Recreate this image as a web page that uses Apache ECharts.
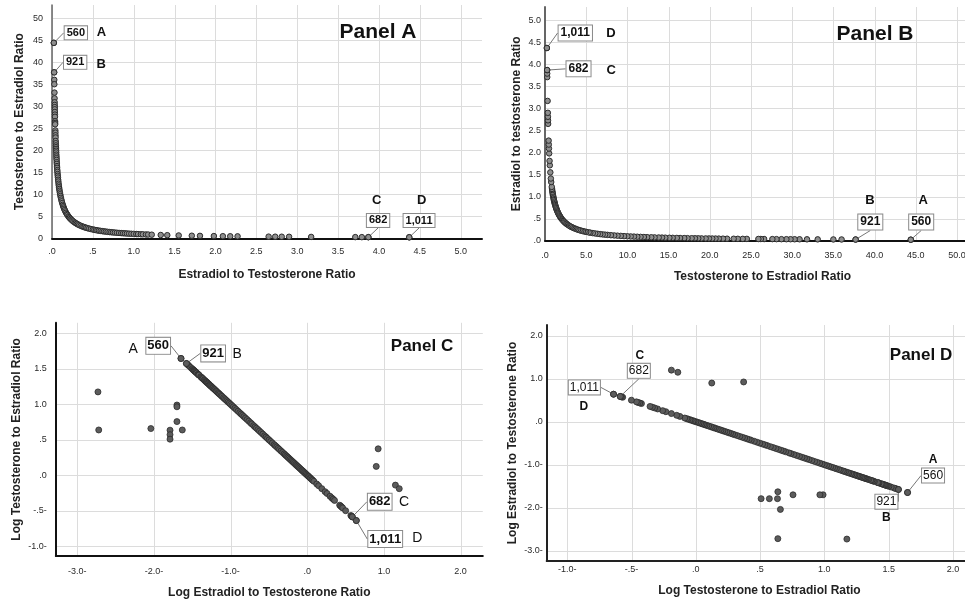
<!DOCTYPE html>
<html>
<head>
<meta charset="utf-8">
<script src="https://cdn.jsdelivr.net/npm/echarts@6/dist/echarts.min.js"></script>
<style>
  html, body { margin: 0; padding: 0; background: #fff; }
  #chart { width: 965px; height: 601px; }
</style>
</head>
<body>
<div id="chart"></div>
<script>
const FONT = "'Liberation Sans', Arial, Helvetica, sans-serif";

// Testosterone-to-estradiol and estradiol-to-testosterone ratios, one entry per subject
const teRatio = [
  36.0, 35.0, 33.1, 31.8, 30.9, 30.3, 29.8, 29.3, 28.7, 28.1,
  27.6, 26.6, 26.2, 25.9, 24.5, 24.0, 23.4, 22.9, 22.1, 21.6,
  21.1, 20.7, 20.3, 19.9, 19.5, 19.0, 18.6, 18.2, 17.8, 17.3,
  16.9, 16.4, 16.0, 15.5, 15.1, 14.6, 14.2, 13.8, 13.3, 12.9,
  12.4, 12.0, 11.6, 11.2, 10.8, 10.4, 10.0, 9.6, 9.2, 8.8,
  8.4, 8.0, 7.6, 7.3, 7.0, 6.7, 6.4, 6.1, 5.8, 5.5,
  5.3, 5.0, 4.8, 4.6, 4.4, 4.2, 4.0, 3.8, 3.6, 3.45,
  3.3, 3.15, 3.0, 2.85, 2.7, 2.6, 2.5, 2.4, 2.3, 2.2,
  2.1, 2.0, 1.93, 1.86, 1.8, 1.74, 1.68, 1.62, 1.57, 1.52,
  1.47, 1.42, 1.38, 1.34, 1.3, 1.26, 1.22, 1.18, 1.15, 1.12,
  1.09, 1.06, 1.03, 1.0, 0.97, 0.95, 0.92, 0.9, 0.87, 0.85,
  0.82, 0.752, 0.709, 0.645, 0.585, 0.552, 0.505, 0.478, 0.459, 0.441,
  0.377, 0.366, 0.356, 0.345, 0.315, 0.270, 0.264
];
const etRatio = [
  0.0278, 0.0286, 0.0302, 0.0314, 0.0324, 0.0330, 0.0336, 0.0341, 0.0348, 0.0356,
  0.0362, 0.0376, 0.0382, 0.0386, 0.0408, 0.0417, 0.0427, 0.0437, 0.0452, 0.0463,
  0.0474, 0.0483, 0.0493, 0.0503, 0.0513, 0.0526, 0.0538, 0.0549, 0.0562, 0.0578,
  0.0592, 0.0610, 0.0625, 0.0645, 0.0662, 0.0685, 0.0704, 0.0725, 0.0752, 0.0775,
  0.0806, 0.0833, 0.0862, 0.0893, 0.0926, 0.0962, 0.100, 0.104, 0.109, 0.114,
  0.119, 0.125, 0.132, 0.137, 0.143, 0.149, 0.156, 0.164, 0.172, 0.182,
  0.189, 0.200, 0.208, 0.217, 0.227, 0.238, 0.250, 0.263, 0.278, 0.290,
  0.303, 0.317, 0.333, 0.351, 0.370, 0.385, 0.400, 0.417, 0.435, 0.455,
  0.476, 0.500, 0.518, 0.538, 0.556, 0.575, 0.595, 0.617, 0.637, 0.658,
  0.680, 0.704, 0.725, 0.746, 0.769, 0.794, 0.820, 0.847, 0.870, 0.893,
  0.917, 0.943, 0.971, 1.000, 1.031, 1.053, 1.087, 1.111, 1.149, 1.176,
  1.220, 1.33, 1.41, 1.55, 1.71, 1.81, 1.98, 2.09, 2.18, 2.27,
  2.65, 2.73, 2.81, 2.90, 3.17, 3.71, 3.79
];

// Log-transformed ratios for the same subjects
const logTE = [
  1.556, 1.544, 1.520, 1.502, 1.490, 1.481, 1.474, 1.467, 1.458, 1.449,
  1.441, 1.425, 1.418, 1.413, 1.389, 1.380, 1.369, 1.360, 1.344, 1.334,
  1.324, 1.316, 1.308, 1.299, 1.290, 1.279, 1.270, 1.260, 1.250, 1.238,
  1.228, 1.215, 1.204, 1.190, 1.179, 1.164, 1.152, 1.140, 1.124, 1.111,
  1.093, 1.079, 1.064, 1.049, 1.033, 1.017, 1.000, 0.982, 0.964, 0.944,
  0.924, 0.903, 0.881, 0.863, 0.845, 0.826, 0.806, 0.785, 0.763, 0.740,
  0.724, 0.699, 0.681, 0.663, 0.643, 0.623, 0.602, 0.580, 0.556, 0.538,
  0.519, 0.498, 0.477, 0.455, 0.431, 0.415, 0.398, 0.380, 0.362, 0.342,
  0.322, 0.301, 0.286, 0.270, 0.255, 0.241, 0.225, 0.210, 0.196, 0.182,
  0.167, 0.152, 0.140, 0.127, 0.114, 0.100, 0.086, 0.072, 0.061, 0.049,
  0.037, 0.025, 0.013, 0.000, -0.013, -0.022, -0.036, -0.046, -0.060, -0.071,
  -0.086, -0.124, -0.149, -0.190, -0.233, -0.258, -0.297, -0.320, -0.338, -0.356,
  -0.423, -0.436, -0.449, -0.462, -0.501, -0.569, -0.579
];
const logET = [
  -1.556, -1.544, -1.520, -1.502, -1.490, -1.481, -1.474, -1.467, -1.458, -1.449,
  -1.441, -1.425, -1.418, -1.413, -1.389, -1.380, -1.369, -1.360, -1.344, -1.334,
  -1.324, -1.316, -1.308, -1.299, -1.290, -1.279, -1.270, -1.260, -1.250, -1.238,
  -1.228, -1.215, -1.204, -1.190, -1.179, -1.164, -1.152, -1.140, -1.124, -1.111,
  -1.093, -1.079, -1.064, -1.049, -1.033, -1.017, -1.000, -0.982, -0.964, -0.944,
  -0.924, -0.903, -0.881, -0.863, -0.845, -0.826, -0.806, -0.785, -0.763, -0.740,
  -0.724, -0.699, -0.681, -0.663, -0.643, -0.623, -0.602, -0.580, -0.556, -0.538,
  -0.519, -0.498, -0.477, -0.455, -0.431, -0.415, -0.398, -0.380, -0.362, -0.342,
  -0.322, -0.301, -0.286, -0.270, -0.255, -0.241, -0.225, -0.210, -0.196, -0.182,
  -0.167, -0.152, -0.140, -0.127, -0.114, -0.100, -0.086, -0.072, -0.061, -0.049,
  -0.037, -0.025, -0.013, 0.000, 0.013, 0.022, 0.036, 0.046, 0.060, 0.071,
  0.086, 0.124, 0.149, 0.190, 0.233, 0.258, 0.297, 0.320, 0.338, 0.356,
  0.423, 0.436, 0.449, 0.462, 0.501, 0.569, 0.579
];

// Cases whose log values fall away from the reciprocal line
const offLineLogET = [-2.73, -2.72, -2.04, -1.79, -1.79, -1.79, -1.70, -1.70, -1.70, -1.63, 0.90, 0.925, 1.15, 1.20];
const offLineLogTE = [1.175, 0.638, 0.658, 0.635, 0.572, 0.508, 0.99, 0.965, 0.756, 0.638, 0.124, 0.372, -0.14, -0.19];

// Labelled extreme cases
const markedCases = ['560', '921', '682', '1,011'];
const markedLetters = ['A', 'B', 'C', 'D'];
const markedET = [0.0225, 0.0265, 3.87, 4.37];
const markedTE = [44.4, 37.7, 0.258, 0.229];
const markedLogET = [-1.647, -1.576, 0.588, 0.640];
const markedLogTE = [1.647, 1.576, -0.588, -0.640];

// Tick labels per axis
const ticksAX = ['.0', '.5', '1.0', '1.5', '2.0', '2.5', '3.0', '3.5', '4.0', '4.5', '5.0'];
const ticksAY = ['0', '5', '10', '15', '20', '25', '30', '35', '40', '45', '50'];
const ticksBX = ['.0', '5.0', '10.0', '15.0', '20.0', '25.0', '30.0', '35.0', '40.0', '45.0', '50.0'];
const ticksBY = ['.0', '.5', '1.0', '1.5', '2.0', '2.5', '3.0', '3.5', '4.0', '4.5', '5.0'];
const ticksCX = ['-3.0-', '-2.0-', '-1.0-', '.0', '1.0', '2.0'];
const ticksCY = ['-1.0-', '-.5-', '.0', '.5', '1.0', '1.5', '2.0'];
const ticksDX = ['-1.0-', '-.5-', '.0', '.5', '1.0', '1.5', '2.0'];
const ticksDY = ['-3.0-', '-2.0-', '-1.0-', '.0', '1.0', '2.0'];

// ---- panel layout and styling ----
const panels = [
  {
    title: 'Panel A', titleAt: [378, 32], titleSize: 21,
    grid: { left: 52, top: 5, width: 430, height: 233.3 },
    x: { min: 0, max: 5.26, step: 0.02, ticks: ticksAX, name: 'Estradiol to Testosterone Ratio', nameGap: 30, margin: 9, color: '#111', width: 2 },
    y: { min: 0, max: 53, step: 1, ticks: ticksAY, name: 'Testosterone to Estradiol Ratio', nameGap: 26, margin: 9, color: '#666', width: 1.5 },
    xs: etRatio, ys: teRatio, mx: markedET, my: markedTE,
    dot: { size: 5.5, fill: '#8e8e8e', edge: '#2b2b2b', edgeWidth: 1 },
    box: { size: 11, weight: 'bold', pad: [1, 2, 1, 2] },
    letter: { size: 13, weight: 'bold' },
    boxAt: [[22, -10], [21, -10], [9.7, -16.7], [9.8, -16.8]],
    letterAt: [[47.5, -10.7], [47, -8.4], [8.4, -37], [12.5, -37.3]]
  },
  {
    title: 'Panel B', titleAt: [875, 34], titleSize: 21,
    grid: { left: 545, top: 7, width: 435, height: 233.7 },
    x: { min: 0, max: 52.8, step: 0.1, ticks: ticksBX, name: 'Testosterone to Estradiol Ratio', nameGap: 30, margin: 10, color: '#111', width: 2 },
    y: { min: 0, max: 5.3, step: 0.01, ticks: ticksBY, name: 'Estradiol to testosterone Ratio', nameGap: 22, margin: 4, color: '#666', width: 2 },
    xs: teRatio, ys: etRatio, mx: markedTE, my: markedET,
    dot: { size: 5.5, fill: '#8e8e8e', edge: '#2b2b2b', edgeWidth: 1 },
    box: { size: 12, weight: 'bold', pad: [2, 2, 1, 2] },
    letter: { size: 13, weight: 'bold' },
    boxAt: [[10.4, -17.7], [14.7, -17.5], [31.4, -1.2], [28.4, -15]],
    letterAt: [[12.4, -39.7], [14.4, -39.5], [64, 0], [64, -14.7]]
  },
  {
    title: 'Panel C', titleAt: [422, 346], titleSize: 17,
    grid: { left: 55.8, top: 322.8, width: 427, height: 233.2 },
    x: { min: -3.28, max: 2.29, step: 0.01, ticks: ticksCX, name: 'Log Estradiol to Testosterone Ratio', nameGap: 31, margin: 11, color: '#111', width: 2 },
    y: { min: -1.14, max: 2.15, step: 0.01, ticks: ticksCY, name: 'Log Testosterone to Estradiol Ratio', nameGap: 33, margin: 9, color: '#111', width: 2 },
    xs: logET, ys: logTE, mx: markedLogET, my: markedLogTE,
    ox: offLineLogET, oy: offLineLogTE,
    dot: { size: 6, fill: '#5c5c5c', edge: '#2b2b2b', edgeWidth: 0.8 },
    box: { size: 13, weight: 'bold', pad: [2, 1, 1, 1] },
    letter: { size: 14, weight: 'normal' },
    boxAt: [[-22.8, -12.6], [26.7, -10.1], [27.4, -15.1], [28.9, 18.5]],
    letterAt: [[-47.8, -9.1], [50.7, -9.4], [51.7, -14.9], [61, 18]]
  },
  {
    title: 'Panel D', titleAt: [921, 355], titleSize: 17,
    grid: { left: 546.7, top: 325, width: 425.5, height: 236 },
    x: { min: -1.16, max: 2.15, step: 0.01, ticks: ticksDX, name: 'Log Testosterone to Estradiol Ratio', nameGap: 24, margin: 4, color: '#222', width: 2 },
    y: { min: -3.24, max: 2.25, step: 0.01, ticks: ticksDY, name: 'Log Estradiol to Testosterone Ratio', nameGap: 28, margin: 4, color: '#222', width: 2 },
    xs: logTE, ys: logET, mx: markedLogTE, my: markedLogET,
    ox: offLineLogTE, oy: offLineLogET,
    dot: { size: 6, fill: '#5c5c5c', edge: '#2b2b2b', edgeWidth: 0.8 },
    box: { size: 12, weight: 'normal', pad: [1, 1, 1, 1] },
    letter: { size: 12, weight: 'bold' },
    boxAt: [[25.5, -17], [-12, 12.2], [18.6, -25.6], [-29.2, -6.8]],
    letterAt: [[25.5, -33.2], [-12, 27.8], [19.6, -40.4], [-29.7, 12.5]]
  }
];

function valueAxis(k, a) {
  const vals = a.ticks.map(parseFloat);
  return {
    type: 'value', gridIndex: k, min: a.min, max: a.max, interval: a.step, z: 1,
    name: a.name, nameLocation: 'middle', nameGap: a.nameGap,
    nameTextStyle: { fontFamily: FONT, fontSize: 12, fontWeight: 'bold', color: '#222' },
    axisLine: { show: true, onZero: false, lineStyle: { color: a.color, width: a.width } },
    axisTick: { show: false },
    splitLine: { show: false },
    axisLabel: {
      fontFamily: FONT, fontSize: 9, color: '#2a2a2a', margin: a.margin,
      formatter: v => {
        const i = vals.findIndex(t => Math.abs(t - v) < a.step / 10);
        return i < 0 ? '' : a.ticks[i];
      }
    }
  };
}

// Light grid lines at the labelled tick values, drawn through the axes' scales
function gridLines(k, ticks, vertical) {
  return {
    type: 'custom', xAxisIndex: k, yAxisIndex: k, z: 0, silent: true, animation: false,
    data: ticks.map(t => { const v = parseFloat(t); return [v, v]; }),
    renderItem: (params, api) => {
      const cs = params.coordSys;
      const p = api.coord([api.value(0), api.value(1)]);
      const shape = vertical
        ? { x1: Math.round(p[0]) + 0.5, y1: cs.y, x2: Math.round(p[0]) + 0.5, y2: cs.y + cs.height }
        : { x1: cs.x, y1: Math.round(p[1]) + 0.5, x2: cs.x + cs.width, y2: Math.round(p[1]) + 0.5 };
      return { type: 'line', shape, style: { stroke: '#dcdcdc', lineWidth: 1 } };
    }
  };
}

function dotStyle(d) {
  return { color: d.fill, borderColor: d.edge, borderWidth: d.edgeWidth, opacity: 1 };
}

const grids = [], xAxes = [], yAxes = [], series = [], graphics = [];

panels.forEach((p, k) => {
  grids.push(Object.assign({ containLabel: false, outerBoundsMode: 'none' }, p.grid));
  xAxes.push(valueAxis(k, p.x));
  yAxes.push(valueAxis(k, p.y));
  series.push(gridLines(k, p.x.ticks, true));
  series.push(gridLines(k, p.y.ticks, false));

  series.push({
    type: 'scatter', xAxisIndex: k, yAxisIndex: k, z: 2, silent: true, animation: false,
    symbolSize: p.dot.size, itemStyle: dotStyle(p.dot),
    data: p.xs.map((x, i) => [x, p.ys[i]])
  });
  if (p.ox) {
    series.push({
      type: 'scatter', xAxisIndex: k, yAxisIndex: k, z: 2, silent: true, animation: false,
      symbolSize: p.dot.size, itemStyle: dotStyle(p.dot),
      data: p.ox.map((x, i) => [x, p.oy[i]])
    });
  }
  // labelled cases: boxed case number with a leader line
  series.push({
    type: 'scatter', xAxisIndex: k, yAxisIndex: k, z: 3, silent: true, animation: false,
    symbolSize: p.dot.size, itemStyle: dotStyle(p.dot),
    data: p.mx.map((x, i) => [x, p.my[i]]),
    label: {
      show: true, position: 'inside',
      formatter: q => markedCases[q.dataIndex],
      fontFamily: FONT, fontSize: p.box.size, fontWeight: p.box.weight, color: '#111',
      textBorderWidth: 0,
      backgroundColor: '#ffffff', borderColor: '#8a8a8a', borderWidth: 1, padding: p.box.pad
    },
    labelLayout: q => ({ dx: p.boxAt[q.dataIndex][0], dy: p.boxAt[q.dataIndex][1] }),
    labelLine: { show: true, lineStyle: { color: '#777', width: 1 } }
  });
  // group letters next to the boxes
  series.push({
    type: 'scatter', xAxisIndex: k, yAxisIndex: k, z: 3, silent: true, animation: false,
    symbolSize: p.dot.size, itemStyle: dotStyle(p.dot),
    data: p.mx.map((x, i) => [x, p.my[i]]),
    label: {
      show: true, position: 'inside',
      formatter: q => markedLetters[q.dataIndex],
      fontFamily: FONT, fontSize: p.letter.size, fontWeight: p.letter.weight, color: '#111',
      textBorderWidth: 0
    },
    labelLayout: q => ({ dx: p.letterAt[q.dataIndex][0], dy: p.letterAt[q.dataIndex][1] })
  });

  graphics.push({
    type: 'text', x: p.titleAt[0], y: p.titleAt[1], z: 10,
    style: {
      text: p.title, font: 'bold ' + p.titleSize + 'px ' + FONT, fill: '#111',
      align: 'center', verticalAlign: 'middle', textAlign: 'center', textVerticalAlign: 'middle'
    }
  });
});

const chart = echarts.init(document.getElementById('chart'), null, { renderer: 'canvas' });
chart.setOption({
  animation: false,
  backgroundColor: '#ffffff',
  textStyle: { fontFamily: FONT },
  grid: grids,
  xAxis: xAxes,
  yAxis: yAxes,
  series: series,
  graphic: graphics
});
</script>
</body>
</html>
